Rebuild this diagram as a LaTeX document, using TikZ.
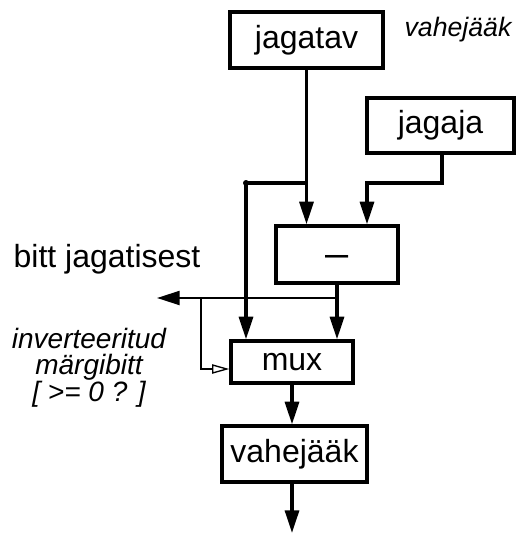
\documentclass[tikz,border=0pt]{standalone}
\usepackage{fontspec}
\setmainfont{Liberation Sans}
\usetikzlibrary{arrows.meta}
\begin{document}
\begin{tikzpicture}[x=0.75pt,y=-0.75pt,
  box/.style={draw,line width=2.5pt,inner sep=0pt,font=\fontsize{24}{28}\selectfont},
  wire/.style={line width=2.4pt},
  thinwire/.style={line width=1.6pt},
  head/.style={-{Triangle[length=17pt,width=10.5pt]}},
  openhead/.style={-{Triangle[open,length=13pt,width=7pt,line width=1pt]}},
  note/.style={font=\fontsize{21}{19.5}\selectfont\itshape,align=center}]
\useasboundingbox (0,0) rectangle (517,535);

% blocks
\node[box,minimum width=114.75pt,minimum height=42pt] (jagatav) at (306.5,40) {jagatav};
\node[box,minimum width=110.25pt,minimum height=41.25pt] (jagaja) at (440.5,125.5) {jagaja};
\node[box,minimum width=91.5pt,minimum height=42.75pt] (minus) at (337,254.5) {\raisebox{-9pt}[0pt][0pt]{\scalebox{1.3}[1.2]{–}}};
\node[box,minimum width=91.5pt,minimum height=31.5pt] (mux) at (292,362) {mux};
\node[box,minimum width=108.75pt,minimum height=42pt] (vahe) at (294.5,454) {vahejääk};

% labels
\node[note,anchor=base,font=\fontsize{20}{19.5}\selectfont\itshape] (lblrest) at (458,37) {vahejääk};
\node[font=\fontsize{24}{28}\selectfont,anchor=base] (lblbit) at (107,267) {bitt jagatisest};
\node[note] (lblsign) at (89,368) {inverteeritud\\märgibitt\\{[ >= 0 ? ]}};

% junction points
\coordinate (tap) at (246,183);
\coordinate (jbend) at (367,183);
\coordinate (split) at (337,298);
\coordinate (branch) at (201,298);
\coordinate (bitout) at (157,298);
\coordinate (out) at (292,533);

% dividend and divisor into the subtractor
\draw[wire,head] (jagatav.south) -- (jagatav.south |- minus.north);
\draw[wire,head] (jagaja.south -| 442,0) |- (jbend) -- (jbend |- minus.north);

% dividend bypass into the multiplexer
\draw[wire] (tap) -- (tap -| jagatav.south);
\fill (tap) circle (3);
\draw[wire,head] (tap) -- (tap |- mux.north);

% difference into the multiplexer
\draw[wire,head] (minus.south) -- (minus.south |- mux.north);

% quotient bit and select line
\draw[thinwire,head] (split) -- (bitout);
\draw[thinwire,openhead] (branch) |- ([yshift=-5.25pt]mux.west);

% remainder register
\draw[wire,head] (mux.south) -- (mux.south |- vahe.north);
\draw[wire,head] (mux.south |- vahe.south) -- (out);
\end{tikzpicture}
\end{document}
